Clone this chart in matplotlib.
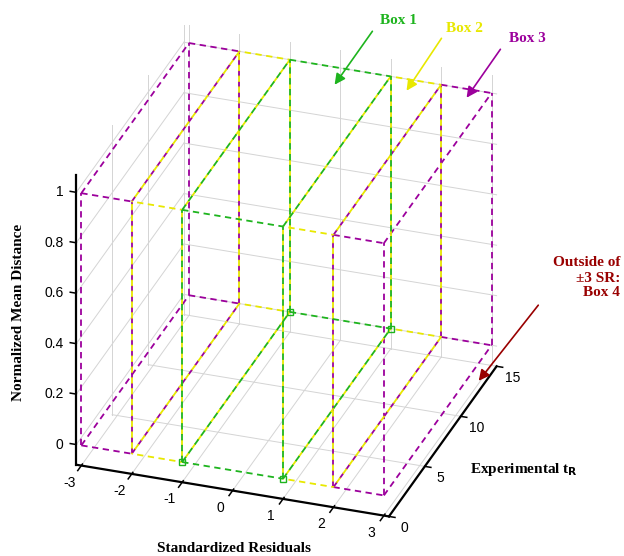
import numpy as np
import matplotlib
matplotlib.use('Agg')
import matplotlib.pyplot as plt
from mpl_toolkits.mplot3d import proj3d

# axis ticks
sr_ticks = [-3, -2, -1, 0, 1, 2, 3]
tr_ticks = [0, 5, 10, 15]
nmd_ticks = [0, 0.2, 0.4, 0.6, 0.8, 1]
nmd_ticklabels = ['0', '0.2', '0.4', '0.6', '0.8', '1']

# boxes: SR ranges, tR range, distance range
box_labels = ['Box 1', 'Box 2', 'Box 3']
box_colors = ['#1eb41e', '#e8e800', '#9c009c']
box_sr = [[(-1, 1)], [(-2, -1), (1, 2)], [(-3, -2), (2, 3)]]
tr_range = (0, 15)
nmd_range = (0, 1)
marker_sr = [-1, 1]
marker_tr = [0, 15]


def edges(x0, x1, y0, y1, z0, z1):
    segs = []
    for y in (y0, y1):
        for z in (z0, z1):
            segs.append(([x0, x1], [y, y], [z, z]))
    for x in (x0, x1):
        for z in (z0, z1):
            segs.append(([x, x], [y0, y1], [z, z]))
    for x in (x0, x1):
        for y in (y0, y1):
            segs.append(([x, x], [y, y], [z0, z1]))
    return segs


fig = plt.figure(figsize=(6.24, 5.56), dpi=100)
ax = fig.add_axes([-0.053, 0.0, 1.0, 1.0], projection='3d', proj_type='ortho')
ax.computed_zorder = False
ax.view_init(elev=28.7, azim=-71)
ax.set_box_aspect((1, 1, 1))

xlo, xhi = -3.1, 3.1
ylo, yhi = 0, 15
zlo, zhi = -0.08, 1.07
ax.set_xlim(xlo, xhi)
ax.set_ylim(ylo, yhi)
ax.set_zlim(zlo, zhi)
ax.set_xticks([])
ax.set_yticks([])
ax.set_zticks([])
ax.grid(False)
ax.set_axis_off()

# grid on the back walls (left, back, floor)
grid_kw = dict(color='#d4d4d4', lw=0.7)
for v in sr_ticks:
    ax.plot([v, v], [yhi, yhi], [zlo, zhi], **grid_kw)
    ax.plot([v, v], [ylo, yhi], [zlo, zlo], **grid_kw)
for v in tr_ticks:
    ax.plot([xlo, xlo], [v, v], [zlo, zhi], **grid_kw)
    ax.plot([xlo, xhi], [v, v], [zlo, zlo], **grid_kw)
for v in nmd_ticks:
    ax.plot([xlo, xlo], [ylo, yhi], [v, v], **grid_kw)
    ax.plot([xlo, xhi], [yhi, yhi], [v, v], **grid_kw)

# axis lines on top of the grid
ax_kw = dict(color='black', lw=1.6, solid_capstyle='projecting')
ax.plot([xlo, xhi], [ylo, ylo], [zlo, zlo], **ax_kw)
ax.plot([xhi, xhi], [ylo, yhi], [zlo, zlo], **ax_kw)
ax.plot([xlo, xlo], [ylo, ylo], [zlo, zhi], **ax_kw)

# tick marks
tk = dict(color='black', lw=1.1)
for v in sr_ticks:
    ax.plot([v, v], [ylo + 0.15, ylo - 0.5], [zlo, zlo], **tk)
for v in tr_ticks:
    ax.plot([xhi, xhi + 0.12], [v, v], [zlo, zlo], **tk)
for v in nmd_ticks:
    ax.plot([xlo, xlo - 0.12], [ylo, ylo], [v, v], **tk)

# magenta first, green last so green sits on top
offsets = [0, 3, 0]
for i in [2, 1, 0]:
    for (a, b) in box_sr[i]:
        for xs, ys, zs in edges(a, b, tr_range[0], tr_range[1], nmd_range[0], nmd_range[1]):
            ax.plot(xs, ys, zs, color=box_colors[i], lw=1.3,
                    linestyle=(offsets[i], (3.5, 2.5)))

mx, my = np.meshgrid(marker_sr, marker_tr)
ax.plot(mx.ravel(), my.ravel(), np.zeros(mx.size), ls='none', marker='s', ms=4.5,
        mfc='none', mec=box_colors[0], mew=1.0)

# tick labels: project 3D anchor points to figure coords, then plain 2D text
fig.canvas.draw()
M = ax.get_proj()


def to_fig(x, y, z):
    px, py, _ = proj3d.proj_transform(x, y, z, M)
    d = ax.transData.transform((px, py))
    return fig.transFigure.inverted().transform(d)


tick_font = dict(family='Liberation Sans', size=10, color='black')
for v in sr_ticks:
    fig.text(*to_fig(v, ylo - 1.7, zlo), str(v), ha='center', va='center', **tick_font)
for v in tr_ticks:
    fig.text(*to_fig(xhi + 0.31, v, zlo - 0.037), str(v), ha='center', va='center', **tick_font)
for v, s in zip(nmd_ticks, nmd_ticklabels):
    fig.text(*to_fig(xlo - 0.225, ylo - 0.19, v), s, ha='right', va='center', **tick_font)

lab_font = dict(family='Liberation Serif', weight='bold', size=11)
fig.text(234 / 624, 1 - 548 / 556, 'Standardized Residuals', ha='center', va='center', **lab_font)
fig.text(19 / 624, 1 - 312 / 556, 'Normalized Mean Distance', ha='center', va='center',
         rotation=90, **lab_font)
fig.text(470 / 624, 1 - 470 / 556, r'Experimental t$_{\mathbf{R}}$', ha='left', va='center', **lab_font)


def fp(x, y):
    return (x / 624, 1 - y / 556)


txt_pos = [(399, 21), (464, 29), (527, 38)]
tails = [(374, 29), (443, 36), (502, 47)]
heads = [(333, 87), (405, 93), (465, 100)]
for i in range(3):
    fig.text(*fp(*txt_pos[i]), box_labels[i], color=box_colors[i], ha='center', va='center', **lab_font)
    fig.add_artist(matplotlib.patches.FancyArrowPatch(
        fp(*tails[i]), fp(*heads[i]), transform=fig.transFigure,
        arrowstyle='-|>', color=box_colors[i], lw=1.2, mutation_scale=16))

fig.text(*fp(620, 278), 'Outside of\n\u00b13 SR:\nBox 4', color='#990000', ha='right', va='center',
         linespacing=1.2, **lab_font)
fig.add_artist(matplotlib.patches.FancyArrowPatch(
    fp(540, 303), fp(477, 383), transform=fig.transFigure,
    arrowstyle='-|>', color='#990000', lw=1.2, mutation_scale=16))

fig.savefig('out.png', dpi=100)
